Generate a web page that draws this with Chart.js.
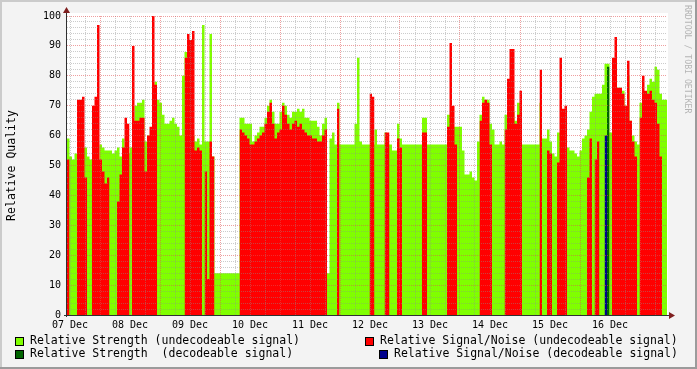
<!DOCTYPE html>
<html>
<head>
<meta charset="utf-8">
<title>Relative Quality</title>
<script src="https://cdn.jsdelivr.net/npm/chart.js@4.4.1/dist/chart.umd.min.js"></script>
<style>
  html, body { margin: 0; padding: 0; background: #f3f3f3; }
  canvas { display: block; }
</style>
</head>
<body>
<canvas id="chart" width="697" height="369"></canvas>
<script>
// hourly samples, hours counted from 07 Dec 00:00
const START_HOUR = -1.2;
const STEP_HOURS = 1;

const dayLabels = ['07 Dec', '08 Dec', '09 Dec', '10 Dec', '11 Dec', '12 Dec', '13 Dec', '14 Dec', '15 Dec', '16 Dec'];
const yLabels = [0, 10, 20, 30, 40, 50, 60, 70, 80, 90, 100];

// Relative Strength (undecodeable signal)
const strengthUndecoded = [
  59, 53, 52, 54, 54, 54, 56, 56, 53, 52,
  52, 52, 52, 57, 56, 55, 55, 55, 54, 55,
  56, 53, 59, 54, 54, 56, 57, 70, 71, 71,
  72, 58, 60, 60, 72, 78, 72, 71, 67, 64,
  64, 65, 66, 64, 63, 60, 80, 88, 88, 60,
  60, 58, 59, 57, 97, 58, 58, 94, 53, 14,
  14, 14, 14, 14, 14, 14, 14, 14, 14, 66,
  66, 64, 64, 64, 58, 60, 61, 63, 63, 66,
  70, 72, 68, 64, 64, 68, 71, 70, 67, 66,
  68, 68, 69, 68, 69, 66, 66, 65, 65, 65,
  63, 60, 64, 66, 14, 59, 61, 57, 71, 57,
  57, 57, 57, 57, 57, 64, 86, 58, 57, 57,
  57, 57, 57, 62, 57, 57, 57, 61, 57, 57,
  55, 55, 64, 59, 57, 57, 57, 57, 57, 57,
  57, 57, 66, 66, 57, 57, 57, 57, 57, 57,
  57, 57, 67, 67, 63, 63, 63, 63, 55, 47,
  47, 48, 46, 45, 58, 67, 73, 72, 72, 64,
  62, 57, 57, 58, 57, 67, 68, 68, 68, 65,
  71, 71, 57, 57, 57, 57, 57, 57, 57, 71,
  59, 59, 62, 58, 54, 53, 61, 61, 56, 56,
  56, 55, 55, 54, 53, 55, 59, 60, 62, 68,
  73, 74, 74, 74, 77, 84, 84, 61, 84, 84,
  76, 76, 75, 70, 80, 65, 60, 58, 57, 71,
  71, 71, 77, 79, 78, 83, 82, 74, 72, 72
];

// Relative Signal/Noise (undecodeable signal)
const snrUndecoded = [
  52, null, null, null, 72, 72, 73, 46, null, null,
  70, 73, 97, 52, 48, 44, 46, null, null, null,
  38, 47, 56, 66, 64, null, 90, 65, 65, 66,
  66, 48, 60, 63, 100, 77, null, null, null, null,
  null, null, null, null, null, null, null, 86, 94, 92,
  95, 55, 56, 55, null, 48, 12, 58, 53, null,
  null, null, null, null, null, null, null, null, null, 62,
  61, 60, 59, 57, 57, 58, 59, 60, 61, 64,
  68, 71, 64, 59, 61, 62, 70, 67, 64, 62,
  64, 65, 63, 64, 62, 61, 60, 60, 59, 59,
  58, 58, 60, 62, null, null, null, null, 69, null,
  null, null, null, null, null, null, null, null, null, null,
  null, 74, 73, null, null, null, null, 61, 61, null,
  null, null, 59, 56, null, null, null, null, null, null,
  null, null, 61, 61, null, null, null, null, null, null,
  null, null, 63, 91, 70, 57, null, null, null, null,
  null, null, null, null, null, 65, 71, 72, 71, 57,
  null, null, null, null, null, 62, 79, 89, 89, 64,
  67, 75, null, null, null, null, null, null, null, 82,
  null, null, 55, 54, null, null, 51, 86, 69, 70,
  null, null, null, null, null, null, null, null, 46, 59,
  null, 52, 58, null, null, null, null, null, 86, 93,
  76, 76, 74, 70, 85, 65, 58, 53, null, 66,
  80, 75, 74, 75, 72, 71, 64, 53, null, null
];

// decodeable samples are rare: sample index + value
const strengthDecodedAt = [216];
const strengthDecoded = [83];
const snrDecodedAt = [215];
const snrDecoded = [60];

const N = strengthUndecoded.length;

// RRD style step area: each sample holds its value for one step
function stepPoints(values, at) {
  const pts = [];
  values.forEach((v, k) => {
    const i = at ? at[k] : k;
    const x0 = START_HOUR + i * STEP_HOURS;
    if (v === null) {
      pts.push({ x: x0, y: null });
    } else {
      pts.push({ x: x0, y: v }, { x: x0 + STEP_HOURS, y: v });
      if (at) pts.push({ x: x0 + STEP_HOURS, y: null });
    }
  });
  return pts;
}

function area(label, color, pts, order) {
  return {
    label: label,
    data: pts,
    order: order,
    fill: 'origin',
    backgroundColor: color,
    borderColor: 'transparent',
    borderWidth: 1,
    pointRadius: 0,
    pointHitRadius: 0,
    tension: 0,
    spanGaps: false
  };
}

const MONO = '"DejaVu Sans Mono", "Liberation Mono", monospace';
const MINOR = 'rgba(143,143,143,0.45)';
const MAJOR = 'rgba(224,80,80,0.55)';

const xTicks = [];
for (let h = 0; h <= START_HOUR + N * STEP_HOURS; h += 6) xTicks.push(h);
const yTicks = [];
for (let v = 0; v <= 100; v += 2) yTicks.push(v);

const legendSlots = [
  { box: [15, 337], text: [30, 341] },
  { box: [15, 350], text: [30, 354] },
  { box: [365, 337], text: [380, 341] },
  { box: [379, 350], text: [394, 354] }
];

const rrdFrame = {
  id: 'rrdFrame',
  beforeDraw(chart) {
    const ctx = chart.ctx, W = chart.width, H = chart.height, a = chart.chartArea;
    ctx.save();
    ctx.fillStyle = '#f3f3f3';
    ctx.fillRect(0, 0, W, H);
    ctx.fillStyle = '#cbcbcb';
    ctx.fillRect(0, 0, W, 2);
    ctx.fillRect(0, 0, 2, H);
    ctx.fillStyle = '#9b9b9b';
    ctx.fillRect(0, H - 2, W, 2);
    ctx.fillRect(W - 2, 0, 2, H);
    ctx.fillStyle = '#ffffff';
    ctx.fillRect(a.left, a.top - 3, a.right - a.left + 1, a.bottom - a.top + 3);
    ctx.restore();
  },
  afterDraw(chart) {
    const ctx = chart.ctx, a = chart.chartArea;
    ctx.save();
    // axes
    ctx.strokeStyle = '#303030';
    ctx.lineWidth = 1;
    ctx.beginPath();
    ctx.moveTo(a.left - 0.5, a.bottom + 2);
    ctx.lineTo(a.left - 0.5, a.top - 6);
    ctx.moveTo(a.left - 3, a.bottom + 0.5);
    ctx.lineTo(a.right + 3, a.bottom + 0.5);
    ctx.stroke();
    // arrows
    ctx.fillStyle = '#7f1f1f';
    ctx.beginPath();
    ctx.moveTo(a.left - 4, a.top - 3);
    ctx.lineTo(a.left + 3, a.top - 3);
    ctx.lineTo(a.left - 0.5, a.top - 9);
    ctx.closePath();
    ctx.fill();
    ctx.beginPath();
    ctx.moveTo(a.right + 2, a.bottom - 3);
    ctx.lineTo(a.right + 2, a.bottom + 4);
    ctx.lineTo(a.right + 8, a.bottom + 0.5);
    ctx.closePath();
    ctx.fill();

    // legend
    ctx.font = '11.5px ' + MONO;
    ctx.textBaseline = 'middle';
    ctx.textAlign = 'left';
    chart.data.datasets.forEach((ds, i) => {
      const s = legendSlots[i];
      ctx.fillStyle = ds.backgroundColor;
      ctx.fillRect(s.box[0], s.box[1], 9, 9);
      ctx.strokeStyle = '#000';
      ctx.strokeRect(s.box[0] + 0.5, s.box[1] + 0.5, 8, 8);
      ctx.fillStyle = '#000';
      ctx.fillText(ds.label, s.text[0], s.text[1]);
    });

    // watermark
    ctx.translate(687, 5);
    ctx.rotate(Math.PI / 2);
    ctx.font = '8.2px ' + MONO;
    ctx.fillStyle = '#b4b4b4';
    ctx.fillText('RRDTOOL / TOBI OETIKER', 0, 0);
    ctx.restore();
  }
};

new Chart(document.getElementById('chart'), {
  type: 'line',
  data: {
    datasets: [
      area('Relative Strength (undecodeable signal)', '#80ff00', stepPoints(strengthUndecoded), 4),
      area('Relative Strength  (decodeable signal)', '#006400', stepPoints(strengthDecoded, strengthDecodedAt), 3),
      area('Relative Signal/Noise (undecodeable signal)', '#ff0000', stepPoints(snrUndecoded), 2),
      area('Relative Signal/Noise (decodeable signal)', '#00008b', stepPoints(snrDecoded, snrDecodedAt), 1)
    ]
  },
  options: {
    responsive: false,
    animation: false,
    events: [],
    layout: { padding: { left: 0, right: 30, top: 16, bottom: 0 } },
    plugins: { legend: { display: false }, tooltip: { enabled: false } },
    scales: {
      x: {
        type: 'linear',
        min: START_HOUR,
        max: START_HOUR + N * STEP_HOURS,
        afterBuildTicks: s => { s.ticks = xTicks.map(v => ({ value: v })); },
        afterFit: s => { s.height = 54; },
        grid: {
          z: 1,
          drawTicks: false,
          lineWidth: 1,
          color: c => (c.tick && c.tick.value % 24 === 12) ? MAJOR : MINOR
        },
        border: { display: false, dash: [1, 1] },
        ticks: {
          autoSkip: false,
          maxRotation: 0,
          padding: 4,
          color: '#000',
          font: { family: MONO, size: 10 },
          callback: v => (v % 24 === 0) ? dayLabels[v / 24] : ''
        }
      },
      y: {
        min: 0,
        max: 100,
        afterBuildTicks: s => { s.ticks = yTicks.map(v => ({ value: v })); },
        afterFit: s => { s.width = 67; },
        grid: {
          z: 1,
          drawTicks: false,
          lineWidth: 1,
          color: c => (c.tick && c.tick.value % 10 === 0) ? MAJOR : MINOR
        },
        border: { display: false, dash: [1, 1] },
        ticks: {
          autoSkip: false,
          padding: 6,
          color: '#000',
          font: { family: MONO, size: 10 },
          callback: v => yLabels.includes(v) ? String(v) : ''
        },
        title: {
          display: true,
          text: 'Relative Quality',
          color: '#000',
          font: { family: MONO, size: 11.5 },
          padding: { top: 5, bottom: 0 }
        }
      }
    }
  },
  plugins: [rrdFrame]
});
</script>
</body>
</html>
